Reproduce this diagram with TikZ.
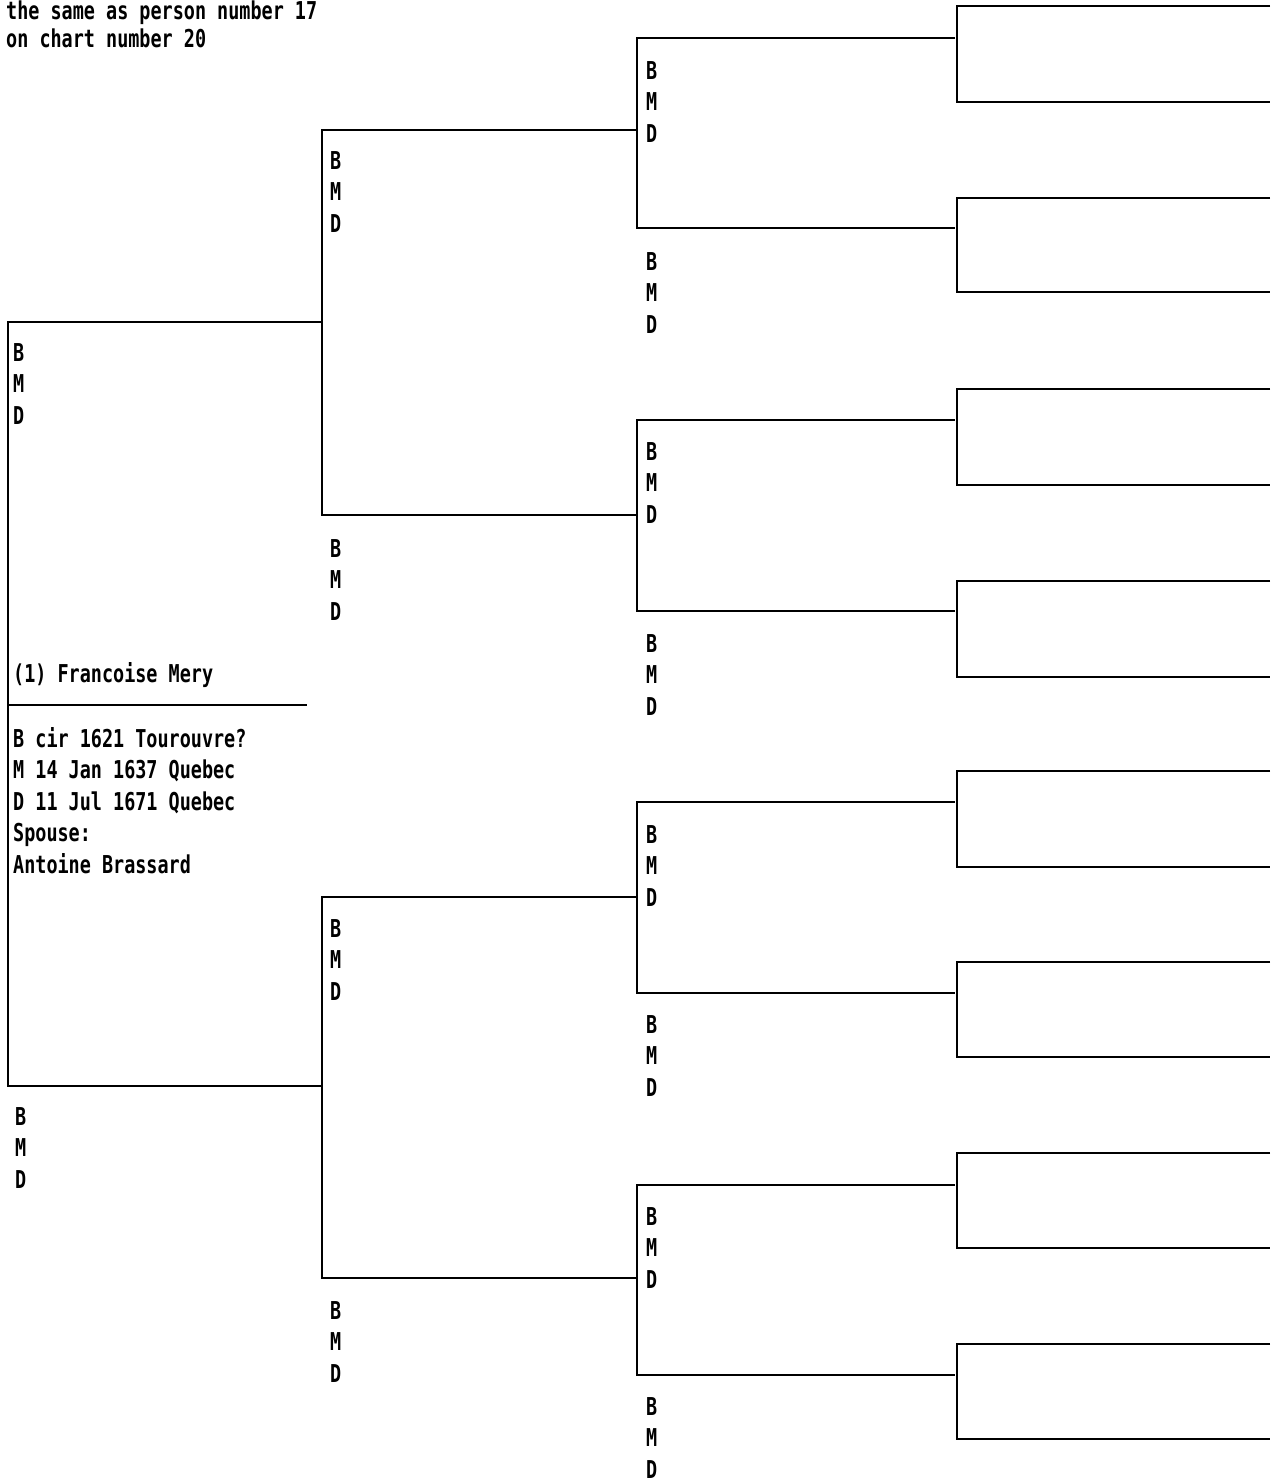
\documentclass[tikz,border=0pt]{standalone}
\usepackage{fontspec}
\newfontfamily\dm[FakeStretch=0.75]{DejaVu Sans Mono}
\newcommand{\bmdlabels}[3]{%
  \node[txt] (#1b) at (#2,#3) {B};
  \node[txt] (#1m) at (#2,#3+31.5) {M};
  \node[txt] (#1d) at (#2,#3+63) {D};
}
\begin{document}
\begin{tikzpicture}[x=1pt,y=-1pt,
  wire/.style={line width=2pt,line join=miter},
  txt/.style={font=\dm\bfseries\fontsize{24.6}{31.5}\selectfont,inner sep=0pt,anchor=base west}]
\useasboundingbox (0,0) rectangle (1270,1484);
\clip (0,0) rectangle (1270,1484);
\fill[white] (0,0) rectangle (1270,1484);

% header
\node[txt] (h1) at (6,19) {the same as person number 17};
\node[txt] (h2) at (6,47) {on chart number 20};

% generation 1
\coordinate (g1t) at (322,322);
\coordinate (g1b) at (322,1086);
\draw[wire] (g1t) -- (8,322) -- (8,1086) -- (g1b);
\coordinate (nl1) at (8,705);
\coordinate (nl2) at (307,705);
\draw[wire] (nl1) -- (nl2);
\bmdlabels{a}{13}{361}
\bmdlabels{ab}{15}{1125}
\node[txt] (name) at (13,682) {(1) Francoise Mery};
\node[txt] (d1) at (13,747) {B cir 1621 Tourouvre?};
\node[txt] (d2) at (13,778.5) {M 14 Jan 1637 Quebec};
\node[txt] (d3) at (13,810) {D 11 Jul 1671 Quebec};
\node[txt] (d4) at (13,841.5) {Spouse:};
\node[txt] (d5) at (13,873) {Antoine Brassard};

% generation 2
\foreach \t/\b/\n in {130/515/p, 897/1278/q}{
  \coordinate (\n t) at (637,\t);
  \coordinate (\n b) at (637,\b);
  \draw[wire] (\n t) -- (322,\t) -- (322,\b) -- (\n b);
}
\bmdlabels{pt}{330}{169}
\bmdlabels{pb}{330}{557}
\bmdlabels{qt}{330}{937}
\bmdlabels{qb}{330}{1319}

% generation 3
\foreach \t/\b/\n in {38/228/r, 420/611/s, 802/993/u, 1185/1375/v}{
  \coordinate (\n t) at (955,\t);
  \coordinate (\n b) at (955,\b);
  \draw[wire] (\n t) -- (637,\t) -- (637,\b) -- (\n b);
}
\bmdlabels{rt}{646}{79}
\bmdlabels{rb}{646}{270}
\bmdlabels{st}{646}{460}
\bmdlabels{sb}{646}{652}
\bmdlabels{ut}{646}{843}
\bmdlabels{ub}{646}{1033}
\bmdlabels{vt}{646}{1225}
\bmdlabels{vb}{646}{1415}

% generation 4
\foreach \t/\b/\n in {6/102/w1, 198/292/w2, 389/485/w3, 581/677/w4, 771/867/w5, 962/1057/w6, 1153/1248/w7, 1344/1439/w8}{
  \coordinate (\n t) at (1270,\t);
  \coordinate (\n b) at (1270,\b);
  \draw[wire] (\n t) -- (957,\t) -- (957,\b) -- (\n b);
}
\end{tikzpicture}
\end{document}
